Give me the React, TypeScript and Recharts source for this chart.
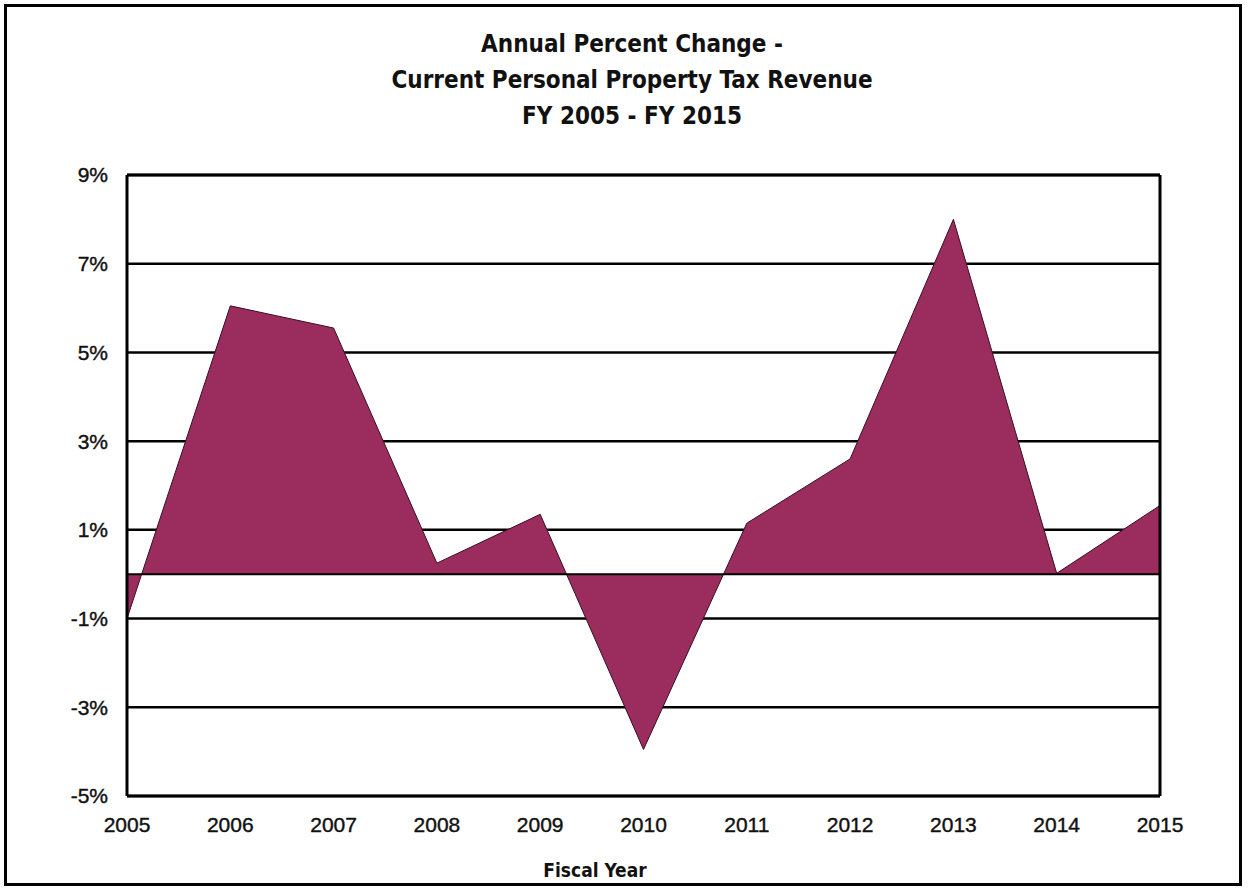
import React from 'react';
import {AreaChart, Area, XAxis, YAxis, CartesianGrid, ReferenceLine} from 'recharts';

const years = ['2005', '2006', '2007', '2008', '2009', '2010', '2011', '2012', '2013', '2014', '2015'];
const pctChange = [-1.0, 6.05, 5.55, 0.25, 1.35, -3.95, 1.15, 2.6, 8.0, 0.02, 1.55];
const yTicks = [-5, -3, -1, 1, 3, 5, 7, 9];
const titleLines = ['Annual Percent Change -', 'Current Personal Property Tax Revenue', 'FY 2005 - FY 2015'];

const data = years.map((y, i) => ({year: y, value: pctChange[i]}));

const narrow = '"Liberation Sans Narrow", "DejaVu Sans Condensed", "Liberation Sans", sans-serif';
const tickFont = {fill: '#111', fontSize: 21, fontFamily: 'Liberation Sans, Arial, sans-serif', stroke: '#111', strokeWidth: 0.4};

const App: React.FC = () => {
    return (
        <div style={{position: 'absolute', left: 0, top: 0, width: 1248, height: 892, background: '#fff'}}>
            <div style={{
                position: 'absolute', left: 4, top: 4, width: 1238, height: 882,
                border: '3px solid #000', boxSizing: 'border-box'
            }}/>
            <div style={{
                position: 'absolute', left: 0, top: 26, width: 1264, textAlign: 'center',
                fontFamily: narrow, fontWeight: 'bold', fontSize: 24, lineHeight: '36px', color: '#111'
            }}>
                {titleLines.map((t) => <div key={t}>{t}</div>)}
            </div>
            <div style={{
                position: 'absolute', left: 495, top: 857, width: 200, textAlign: 'center',
                fontFamily: narrow, fontWeight: 'bold', fontSize: 19, lineHeight: '26px', color: '#111'
            }}>
                Fiscal Year
            </div>
            <AreaChart
                width={1248}
                height={892}
                data={data}
                margin={{top: 175, right: 88, left: 67, bottom: 66}}
                style={{position: 'absolute', left: 0, top: 0}}
            >
                <CartesianGrid vertical={false} stroke="#000" strokeWidth={2.5} strokeOpacity={1}/>
                <XAxis
                    dataKey="year"
                    axisLine={false}
                    tickLine={false}
                    height={30}
                    tick={tickFont}
                    tickMargin={15}
                    interval={0}
                />
                <YAxis
                    type="number"
                    domain={[-5, 9]}
                    ticks={yTicks}
                    interval={0}
                    axisLine={false}
                    tickLine={false}
                    width={60}
                    tickFormatter={(v: number) => `${v}%`}
                    tick={tickFont}
                    tickMargin={13}
                />
                <Area
                    type="linear"
                    dataKey="value"
                    baseValue={0}
                    fill="#9b2d5e"
                    fillOpacity={1}
                    stroke="#3a0f22"
                    strokeWidth={1}
                    isAnimationActive={false}
                />
                <ReferenceLine y={0} stroke="#000" strokeWidth={2}/>
                <ReferenceLine y={-5} stroke="#000" strokeWidth={3}/>
                <ReferenceLine y={9} stroke="#000" strokeWidth={3}/>
                <ReferenceLine x="2005" stroke="#000" strokeWidth={3}/>
                <ReferenceLine x="2015" stroke="#000" strokeWidth={3}/>
            </AreaChart>
        </div>
    );
};

export default App;
